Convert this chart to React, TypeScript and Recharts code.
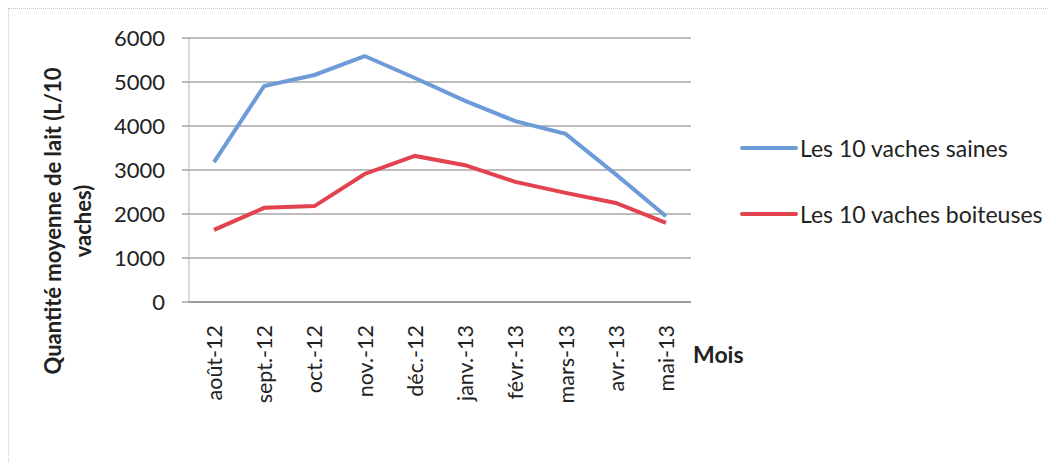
import { CartesianGrid, Legend, Line, LineChart, XAxis, YAxis } from 'recharts';

const months = [
  'août-12',
  'sept.-12',
  'oct.-12',
  'nov.-12',
  'déc.-12',
  'janv.-13',
  'févr.-13',
  'mars-13',
  'avr.-13',
  'mai-13',
];
const saines = [3180, 4910, 5160, 5590, 5090, 4570, 4110, 3820, 2900, 1950];
const boiteuses = [1640, 2140, 2180, 2910, 3320, 3110, 2730, 2480, 2250, 1800];
const yTicks = [0, 1000, 2000, 3000, 4000, 5000, 6000];
const seriesNames = ['Les 10 vaches saines', 'Les 10 vaches boiteuses'];

const data = months.map((mois, i) => ({ mois, saines: saines[i], boiteuses: boiteuses[i] }));

const FONT = 'Lato, "Open Sans", sans-serif';
const BLUE = '#6d9bd8';
const RED = '#e2434f';

function MonthTick(props: any) {
  const { x, y, payload } = props;
  return (
    <g transform={`translate(${x},${y})`}>
      <text
        transform="rotate(-90)"
        x={-15}
        y={8}
        textAnchor="end"
        fontSize={21.5}
        fontFamily={FONT}
        fill="#222"
      >
        {payload.value}
      </text>
    </g>
  );
}

function YTitle() {
  // two-line rotated title, centred a bit below the plot middle
  return (
    <g fontFamily={FONT} fontWeight={700} fontSize={22} fill="#222" textAnchor="middle">
      <text transform="translate(52,212) rotate(-90)">Quantité moyenne de lait (L/10</text>
      <text transform="translate(82,212) rotate(-90)">vaches)</text>
    </g>
  );
}

function XTitle(props: any) {
  const { viewBox } = props;
  return (
    <text
      x={viewBox.x + viewBox.width + 2}
      y={354}
      fontFamily={FONT}
      fontWeight={700}
      fontSize={23}
      fill="#222"
    >
      Mois
    </text>
  );
}

function LegendBox(props: any) {
  const items = [...(props.payload ?? [])].sort(
    (a: any, b: any) => seriesNames.indexOf(a.value) - seriesNames.indexOf(b.value),
  );
  return (
    <div style={{ fontFamily: FONT, fontSize: 23, color: '#222', whiteSpace: 'nowrap' }}>
      {items.map((p: any) => (
        <div key={p.value} style={{ display: 'flex', alignItems: 'center', height: 66 }}>
          <svg width={58} height={8} style={{ marginRight: 2, flexShrink: 0 }}>
            <line x1={2} y1={4} x2={56} y2={4} stroke={p.color} strokeWidth={4} strokeLinecap="round" />
          </svg>
          <span>{p.value}</span>
        </div>
      ))}
    </div>
  );
}

export default function App() {
  return (
    <div
      style={{
        width: 1040,
        height: 454,
        borderTop: '1px dotted #c8c8c8',
        borderLeft: '1px dotted #c8c8c8',
        boxSizing: 'border-box',
        background: '#fff',
      }}
    >
      <LineChart
        width={1039}
        height={453}
        data={data}
        margin={{ top: 29, right: 357, bottom: 60, left: 120 }}
      >
        <CartesianGrid vertical={false} stroke="#7a7a7a" strokeWidth={1.2} />
        <XAxis
          dataKey="mois"
          tick={<MonthTick />}
          tickLine={false}
          axisLine={{ stroke: '#7a7a7a', strokeWidth: 1.2 }}
          padding={{ left: 25, right: 25 }}
          height={100}
          interval={0}
          label={<XTitle />}
        />
        <YAxis
          domain={[0, 6000]}
          ticks={yTicks}
          width={60}
          tickSize={7}
          tickMargin={17}
          tickLine={{ stroke: '#7a7a7a' }}
          axisLine={{ stroke: '#b5b5b5' }}
          tick={{ fontSize: 22, fontFamily: FONT, fill: '#222' }}
          label={<YTitle />}
        />
        {/* vertical + centre + middle keeps the legend from eating plot space */}
        <Legend
          layout="vertical"
          verticalAlign="middle"
          align="center"
          content={<LegendBox />}
          wrapperStyle={{ left: 731, top: 106, width: 310 }}
        />
        <Line
          type="linear"
          dataKey="saines"
          name={seriesNames[0]}
          stroke={BLUE}
          strokeWidth={4}
          dot={false}
          isAnimationActive={false}
        />
        <Line
          type="linear"
          dataKey="boiteuses"
          name={seriesNames[1]}
          stroke={RED}
          strokeWidth={4}
          dot={false}
          isAnimationActive={false}
        />
      </LineChart>
    </div>
  );
}
